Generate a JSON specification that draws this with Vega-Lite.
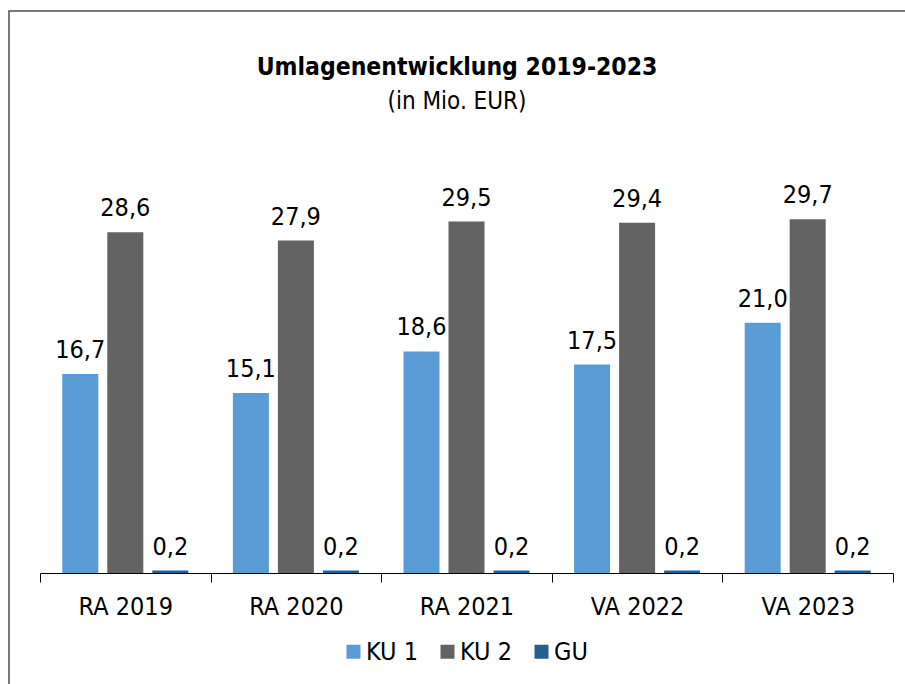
{
  "$schema": "https://vega.github.io/schema/vega-lite/v6.json",
  "autosize": {"type": "none"},
  "padding": {"left": 9, "top": 11, "right": 0, "bottom": 0},
  "width": 900,
  "height": 680,
  "background": "white",
  "title": {
    "text": "Umlagenentwicklung 2019-2023",
    "subtitle": "(in Mio. EUR)",
    "anchor": "middle",
    "dx": -2,
    "offset": -104,
    "font": "DejaVu Sans Condensed, Liberation Sans",
    "subtitleFont": "DejaVu Sans Condensed, Liberation Sans",
    "fontSize": 24.5,
    "fontWeight": "bold",
    "subtitleFontSize": 24,
    "subtitlePadding": 10,
    "color": "#000000",
    "subtitleColor": "#000000"
  },
  "data": {
    "values": [
      {"period": "RA 2019", "series": "KU 1", "value": 16.7},
      {"period": "RA 2019", "series": "KU 2", "value": 28.6},
      {"period": "RA 2019", "series": "GU", "value": 0.2},
      {"period": "RA 2020", "series": "KU 1", "value": 15.1},
      {"period": "RA 2020", "series": "KU 2", "value": 27.9},
      {"period": "RA 2020", "series": "GU", "value": 0.2},
      {"period": "RA 2021", "series": "KU 1", "value": 18.6},
      {"period": "RA 2021", "series": "KU 2", "value": 29.5},
      {"period": "RA 2021", "series": "GU", "value": 0.2},
      {"period": "VA 2022", "series": "KU 1", "value": 17.5},
      {"period": "VA 2022", "series": "KU 2", "value": 29.4},
      {"period": "VA 2022", "series": "GU", "value": 0.2},
      {"period": "VA 2023", "series": "KU 1", "value": 21.0},
      {"period": "VA 2023", "series": "KU 2", "value": 29.7},
      {"period": "VA 2023", "series": "GU", "value": 0.2}
    ]
  },
  "encoding": {
    "x": {
      "field": "period",
      "type": "nominal",
      "sort": ["RA 2019", "RA 2020", "RA 2021", "VA 2022", "VA 2023"],
      "scale": {"range": [31, 884], "paddingInner": 0, "paddingOuter": 0},
      "axis": {
        "title": null,
        "labelAngle": 0,
        "labelFontSize": 25,
        "labelColor": "#000000",
        "labelPadding": 12,
        "tickSize": 9,
        "tickColor": "#000000",
        "domainColor": "#000000",
        "tickBand": "extent",
        "grid": false,
        "offset": -118
      }
    },
    "xOffset": {
      "field": "series",
      "type": "nominal",
      "sort": ["KU 1", "KU 2", "GU"],
      "scale": {"paddingInner": 0.2, "paddingOuter": 0.495}
    },
    "y": {
      "field": "value",
      "type": "quantitative",
      "scale": {"domain": [0, 35], "range": [562, 145], "nice": false},
      "axis": null
    }
  },
  "layer": [
    {
      "mark": {"type": "bar"},
      "encoding": {
        "color": {
          "field": "series",
          "type": "nominal",
          "scale": {"domain": ["KU 1", "KU 2", "GU"], "range": ["#5B9BD5", "#636363", "#255E91"]},
          "legend": {
            "orient": "none",
            "legendX": 332,
            "legendY": 628,
            "direction": "horizontal",
            "title": null,
            "symbolType": "square",
            "symbolSize": 196,
            "symbolStrokeWidth": 0,
            "labelFontSize": 25,
            "labelColor": "#000000",
            "labelOffset": 0,
            "columnPadding": 17,
            "padding": 0
          }
        }
      }
    },
    {
      "mark": {"type": "text", "baseline": "alphabetic", "dy": -16, "fontSize": 25, "color": "#000000"},
      "encoding": {
        "text": {"field": "value", "type": "quantitative", "format": ".1f"}
      }
    }
  ],
  "config": {
    "font": "DejaVu Sans Condensed, Liberation Sans",
    "locale": {"number": {"decimal": ",", "thousands": ".", "grouping": [3], "currency": ["", " €"]}},
    "view": {"stroke": "#4d4d4d", "strokeWidth": 1.5}
  }
}
